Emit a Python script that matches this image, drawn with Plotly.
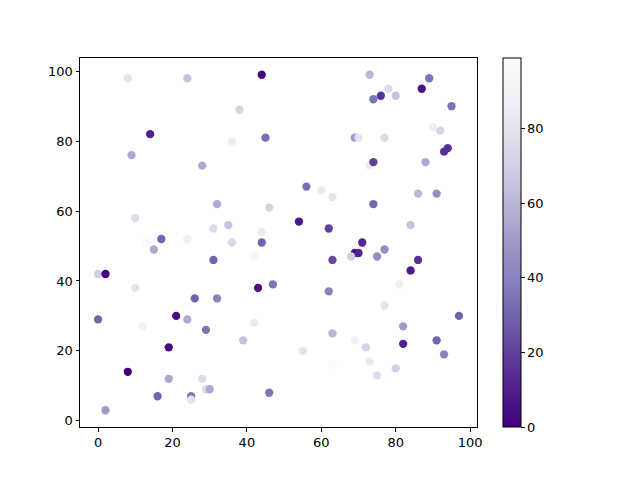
import plotly.graph_objects as go

x_vals = [8, 24, 14, 9, 28, 44, 38, 36, 45, 56, 60, 73, 89, 87, 78, 76, 80, 74, 95, 90,
          92, 69, 70, 77, 94, 93, 73, 74, 88, 32, 10, 31, 17, 13, 24, 15, 31, 0, 2, 10,
          26, 32, 63, 46, 54, 62, 35, 44, 36, 44, 42, 63, 43, 47, 62, 86, 91, 74, 84, 71,
          69, 70, 68, 77, 75, 86, 84, 81, 77, 0, 12, 21, 24, 29, 19, 8, 19, 28, 29, 30,
          16, 25, 25, 2, 42, 39, 55, 63, 63, 46, 97, 82, 69, 72, 82, 91, 93, 73, 80, 75]
y_vals = [98, 98, 82, 76, 73, 99, 89, 80, 81, 67, 66, 99, 98, 95, 95, 93, 93, 92, 90, 84,
          83, 81, 81, 81, 78, 77, 73, 74, 74, 62, 58, 55, 52, 51, 52, 49, 46, 42, 42, 38,
          35, 35, 64, 61, 57, 55, 56, 54, 51, 51, 47, 46, 38, 39, 37, 65, 65, 62, 56, 51,
          48, 48, 47, 49, 47, 46, 43, 39, 33, 29, 27, 30, 29, 26, 21, 14, 12, 12, 9, 9,
          7, 7, 6, 3, 28, 23, 20, 25, 16, 8, 30, 27, 23, 21, 22, 23, 19, 17, 15, 13]
c_vals = [80, 65, 10, 55, 55, 3, 72, 85, 33, 33, 85, 60, 35, 5, 75, 15, 65, 35, 35, 88,
          72, 50, 80, 75, 15, 15, 85, 20, 55, 55, 75, 75, 30, 97, 88, 55, 30, 70, 1, 80,
          30, 40, 80, 72, 8, 20, 65, 85, 75, 30, 95, 22, 5, 35, 40, 60, 45, 30, 65, 12,
          5, 10, 70, 45, 45, 15, 8, 88, 80, 30, 90, 5, 55, 35, 3, 0, 55, 75, 75, 55,
          30, 35, 80, 50, 85, 65, 80, 60, 99, 35, 30, 50, 90, 70, 10, 30, 40, 85, 70, 75]

fig = go.Figure(go.Scatter(
    x=x_vals, y=y_vals, mode="markers",
    marker=dict(
        size=8.3, color=c_vals, colorscale="Purples", reversescale=True,
        cmin=min(c_vals), cmax=max(c_vals), line=dict(width=0),
        colorbar=dict(
            thickness=18, len=1, lenmode="fraction", y=0.5, yanchor="middle",
            x=1.0655, xanchor="left", xpad=0, ypad=0,
            outlinecolor="black", outlinewidth=1,
            tickvals=[0, 20, 40, 60, 80], ticks="outside", ticklen=3.5,
            tickcolor="black", tickfont=dict(family="DejaVu Sans", size=13, color="black"),
        ),
    ),
))

axis_common = dict(
    showline=True, linecolor="black", linewidth=1, mirror=True,
    ticks="outside", ticklen=3.5, tickcolor="black", showgrid=False, zeroline=False,
    tickfont=dict(family="DejaVu Sans", size=13, color="black"),
    tickvals=[0, 20, 40, 60, 80, 100],
)
fig.update_xaxes(range=[-4.85, 101.85], **axis_common)
fig.update_yaxes(range=[-1.8, 103.8], **axis_common)
fig.update_layout(
    width=640, height=480,
    margin=dict(l=80, r=163, t=58, b=53),
    plot_bgcolor="white", paper_bgcolor="white",
    showlegend=False,
)
fig.write_html("out.html", config={"displayModeBar": False},
               post_script="document.body.style.margin='0';")
